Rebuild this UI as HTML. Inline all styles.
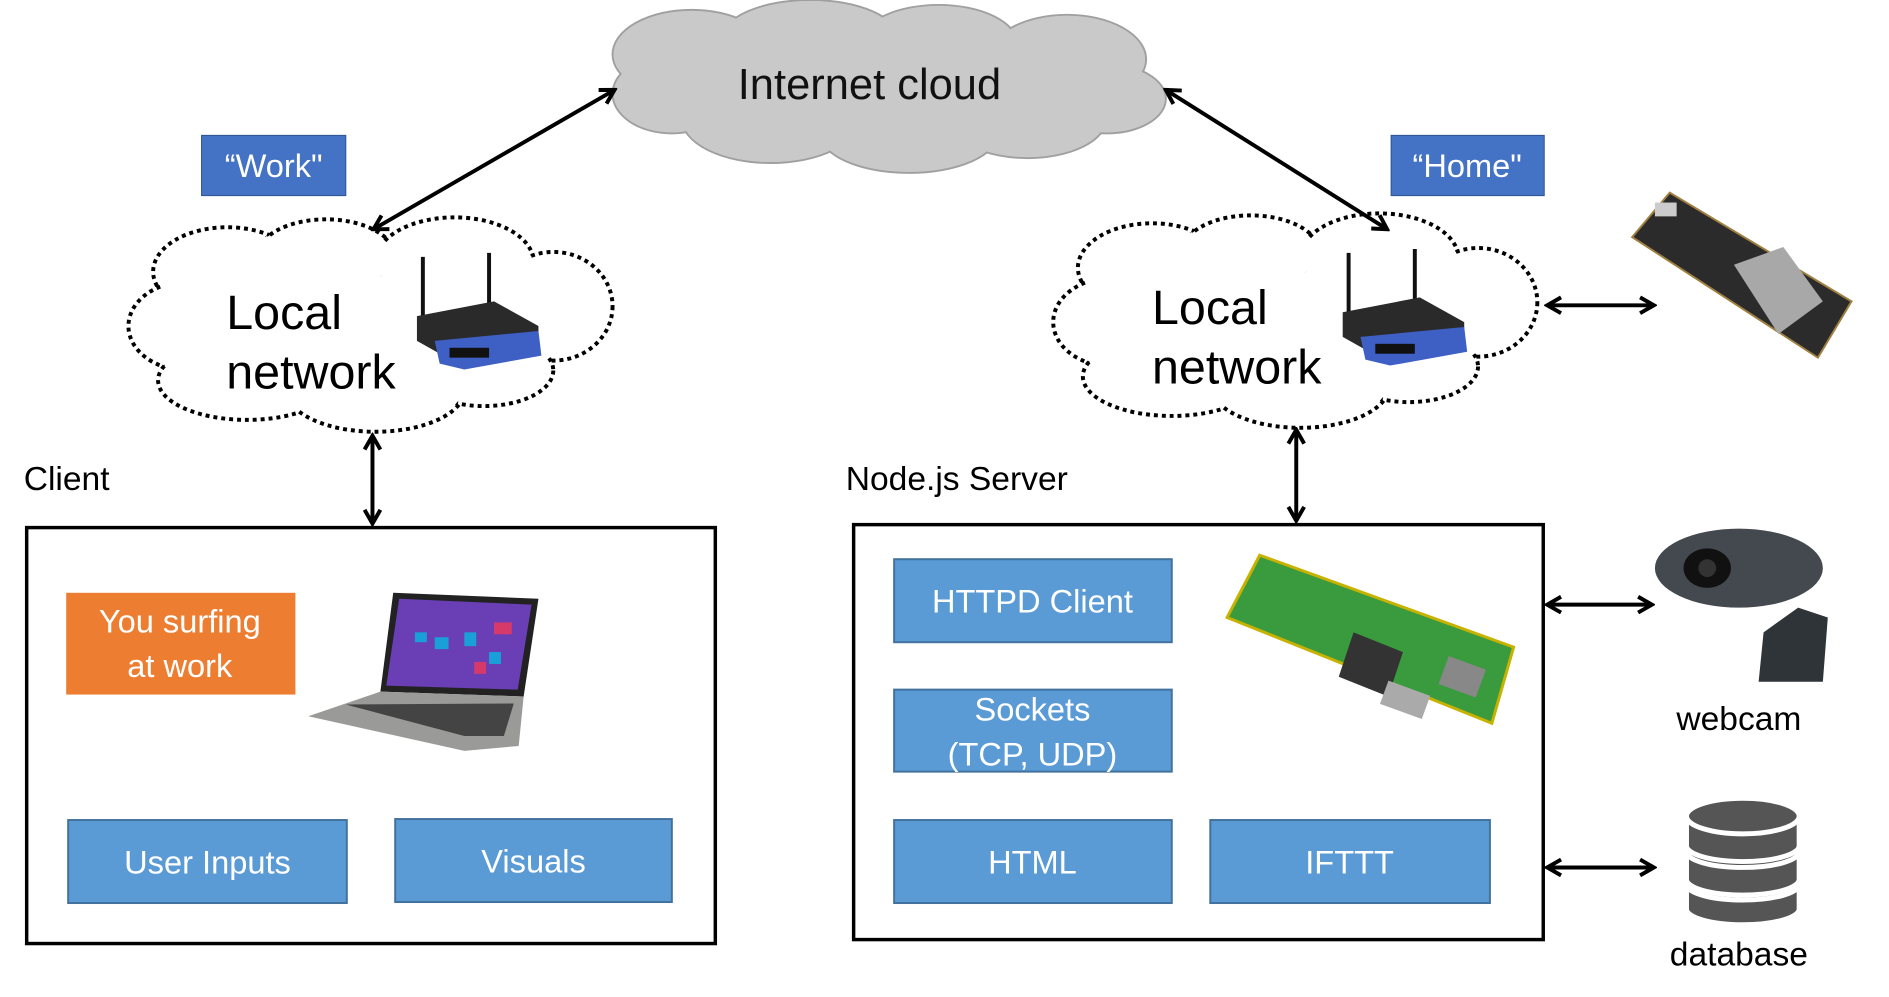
<!DOCTYPE html>
<html><head><meta charset="utf-8"><style>
html,body{margin:0;padding:0;background:#fff;}
svg{display:block;}
text{font-family:"Liberation Sans",sans-serif;}
</style></head><body>
<svg width="1889" height="997" viewBox="0 0 1889 997" xmlns="http://www.w3.org/2000/svg">
<defs>
<marker id="ah" viewBox="0 0 20 20" refX="17" refY="10" markerWidth="20" markerHeight="20" markerUnits="userSpaceOnUse" orient="auto-start-reverse">
<path d="M3,2 L17,10 L3,18" fill="none" stroke="#000" stroke-width="4" stroke-linejoin="miter"/>
</marker>
</defs>
<g transform="scale(0.988)">
<!-- Internet cloud -->
<g stroke="#a0a0a0" stroke-width="2" fill="#c9c9c9">
<ellipse cx="700" cy="55" rx="80" ry="45"/><ellipse cx="820" cy="40" rx="90" ry="40"/>
<ellipse cx="950" cy="45" rx="80" ry="40"/><ellipse cx="1080" cy="60" rx="80" ry="45"/>
<ellipse cx="1120" cy="100" rx="60" ry="35"/><ellipse cx="680" cy="95" rx="60" ry="40"/>
<ellipse cx="780" cy="120" rx="90" ry="45"/><ellipse cx="920" cy="135" rx="90" ry="40"/>
<ellipse cx="1040" cy="120" rx="80" ry="40"/>
</g>
<g fill="#c9c9c9">
<ellipse cx="700" cy="55" rx="79" ry="44"/><ellipse cx="820" cy="40" rx="89" ry="39"/>
<ellipse cx="950" cy="45" rx="79" ry="39"/><ellipse cx="1080" cy="60" rx="79" ry="44"/>
<ellipse cx="1120" cy="100" rx="59" ry="34"/><ellipse cx="680" cy="95" rx="59" ry="39"/>
<ellipse cx="780" cy="120" rx="89" ry="44"/><ellipse cx="920" cy="135" rx="89" ry="39"/>
<ellipse cx="1040" cy="120" rx="79" ry="39"/><rect x="700" y="60" width="380" height="80"/>
</g>
<text x="880" y="100" font-size="44" text-anchor="middle" fill="#111">Internet cloud</text>

<!-- Labels -->
<rect x="204" y="137" width="146" height="61" fill="#4472C4" stroke="#2F528F"/>
<text x="277" y="179" font-size="33" fill="#fff" text-anchor="middle">“Work"</text>
<rect x="1408" y="137" width="155" height="61" fill="#4472C4" stroke="#2F528F"/>
<text x="1485" y="179" font-size="33" fill="#fff" text-anchor="middle">“Home"</text>

<!-- Local clouds -->
<g id="lc">
<g stroke="#000" stroke-width="4" stroke-dasharray="4 4" fill="#fff">
<ellipse cx="230" cy="275" rx="75" ry="45"/><ellipse cx="330" cy="260" rx="70" ry="38"/>
<ellipse cx="460" cy="265" rx="80" ry="45"/><ellipse cx="560" cy="310" rx="60" ry="55"/>
<ellipse cx="190" cy="330" rx="60" ry="45"/><ellipse cx="250" cy="385" rx="90" ry="40"/>
<ellipse cx="380" cy="395" rx="90" ry="42"/><ellipse cx="490" cy="375" rx="70" ry="36"/>
</g>
<g fill="#fff">
<ellipse cx="230" cy="275" rx="72" ry="42"/><ellipse cx="330" cy="260" rx="67" ry="35"/>
<ellipse cx="460" cy="265" rx="77" ry="42"/><ellipse cx="560" cy="310" rx="57" ry="52"/>
<ellipse cx="190" cy="330" rx="57" ry="42"/><ellipse cx="250" cy="385" rx="87" ry="37"/>
<ellipse cx="380" cy="395" rx="87" ry="39"/><ellipse cx="490" cy="375" rx="67" ry="33"/>
<rect x="200" y="280" width="340" height="110"/>
</g>
</g>
<use href="#lc" transform="translate(936,-4)"/>

<g id="rt">
<line x1="428" y1="260" x2="428" y2="325" stroke="#111" stroke-width="4"/>
<line x1="495" y1="256" x2="495" y2="315" stroke="#111" stroke-width="4"/>
<path d="M422,320 L500,305 L545,330 L545,355 L470,372 L422,345 Z" fill="#2a2a2a"/>
<path d="M440,345 L545,335 L548,360 L470,374 L445,368 Z" fill="#3e5fc4"/>
<rect x="455" y="352" width="40" height="10" fill="#111"/>
</g>
<use href="#rt" transform="translate(937,-4)"/>

<text x="229" y="333" font-size="49" fill="#000">Local</text>
<text x="229" y="393" font-size="49" fill="#000">network</text>
<text x="1166" y="328" font-size="49" fill="#000">Local</text>
<text x="1166" y="388" font-size="49" fill="#000">network</text>

<!-- Arrows -->
<g stroke="#000" stroke-width="4" marker-start="url(#ah)" marker-end="url(#ah)">
<line x1="378" y1="232" x2="622" y2="91"/>
<line x1="1180" y1="91" x2="1404" y2="232"/>
<line x1="377" y1="441" x2="377" y2="530"/>
<line x1="1312" y1="435" x2="1312" y2="527"/>
<line x1="1566" y1="309" x2="1674" y2="309"/>
<line x1="1566" y1="612" x2="1672" y2="612"/>
<line x1="1566" y1="878" x2="1674" y2="878"/>
</g>

<!-- Client -->
<text x="24" y="496" font-size="34" fill="#000">Client</text>
<rect x="27" y="534" width="697" height="421" fill="none" stroke="#000" stroke-width="3.5"/>
<rect x="67" y="600" width="232" height="103" fill="#ED7D31"/>
<text x="182" y="640" font-size="33" fill="#fff" text-anchor="middle">You surfing</text>
<text x="182" y="685" font-size="33" fill="#fff" text-anchor="middle">at work</text>
<!-- laptop -->
<path d="M398,600 L545,606 L530,705 L385,700 Z" fill="#222"/>
<path d="M404,606 L538,612 L524,698 L391,694 Z" fill="#6a3fb5"/>
<g fill="#1aa0d8"><rect x="420" y="640" width="12" height="10"/><rect x="440" y="645" width="14" height="12"/><rect x="470" y="640" width="12" height="14"/><rect x="495" y="660" width="12" height="12"/></g>
<g fill="#d63a6a"><rect x="500" y="630" width="18" height="12"/><rect x="480" y="670" width="12" height="12"/></g>
<path d="M385,700 L530,705 L525,755 L470,760 L312,725 Z" fill="#9a9a98"/>
<path d="M350,713 L520,712 L510,745 L470,745 Z" fill="#444"/>
<rect x="69" y="830" width="282" height="84" fill="#5B9BD5" stroke="#41719C" stroke-width="2"/>
<text x="210" y="884" font-size="33" fill="#fff" text-anchor="middle">User Inputs</text>
<rect x="400" y="829" width="280" height="84" fill="#5B9BD5" stroke="#41719C" stroke-width="2"/>
<text x="540" y="883" font-size="33" fill="#fff" text-anchor="middle">Visuals</text>

<!-- Server -->
<text x="856" y="496" font-size="34" fill="#000">Node.js Server</text>
<rect x="864" y="531" width="698" height="420" fill="none" stroke="#000" stroke-width="3.5"/>
<rect x="905" y="566" width="281" height="84" fill="#5B9BD5" stroke="#41719C" stroke-width="2"/>
<text x="1045" y="620" font-size="33" fill="#fff" text-anchor="middle">HTTPD Client</text>
<rect x="905" y="698" width="281" height="83" fill="#5B9BD5" stroke="#41719C" stroke-width="2"/>
<text x="1045" y="729" font-size="33" fill="#fff" text-anchor="middle">Sockets</text>
<text x="1045" y="775" font-size="33" fill="#fff" text-anchor="middle">(TCP, UDP)</text>
<rect x="905" y="830" width="281" height="84" fill="#5B9BD5" stroke="#41719C" stroke-width="2"/>
<text x="1045" y="884" font-size="33" fill="#fff" text-anchor="middle">HTML</text>
<rect x="1225" y="830" width="283" height="84" fill="#5B9BD5" stroke="#41719C" stroke-width="2"/>
<text x="1366" y="884" font-size="33" fill="#fff" text-anchor="middle">IFTTT</text>
<!-- Pi zero -->
<path d="M1275,562 L1532,655 L1510,732 L1242,625 Z" fill="#3a9a3e" stroke="#c8b200" stroke-width="3"/>
<path d="M1370,640 L1420,660 L1405,705 L1355,685 Z" fill="#333"/>
<rect x="1400" y="695" width="45" height="25" fill="#aaa" transform="rotate(20 1420 707)"/>
<rect x="1460" y="670" width="40" height="30" fill="#888" transform="rotate(20 1480 685)"/>
<!-- ESP board -->
<path d="M1652,240 L1690,195 L1874,305 L1840,362 Z" fill="#2b2b2b" stroke="#a08040" stroke-width="2"/>
<path d="M1755,268 L1805,250 L1845,305 L1800,338 Z" fill="#a8a8a8"/>
<rect x="1675" y="205" width="22" height="14" fill="#ccc"/>
<!-- Webcam -->
<path d="M1785,640 L1820,615 L1850,625 L1845,690 L1780,690 Z" fill="#2f3438"/>
<ellipse cx="1760" cy="575" rx="85" ry="40" fill="#43494e"/>
<ellipse cx="1728" cy="575" rx="24" ry="20" fill="#111"/>
<circle cx="1728" cy="575" r="9" fill="#333"/>
<text x="1760" y="739" font-size="34" fill="#000" text-anchor="middle">webcam</text>
<!-- Database -->
<g fill="#555" stroke="#fff" stroke-width="5">
<path d="M1707,895 L1707,920 A57,16 0 0,0 1821,920 L1821,895 Z"/>
<ellipse cx="1764" cy="895" rx="57" ry="16"/>
<path d="M1707,862 L1707,890 A57,16 0 0,0 1821,890 L1821,862 Z"/>
<ellipse cx="1764" cy="862" rx="57" ry="16"/>
<path d="M1707,828 L1707,856 A57,16 0 0,0 1821,856 L1821,828 Z"/>
<ellipse cx="1764" cy="826" rx="57" ry="18"/>
</g>
<text x="1760" y="977" font-size="34" fill="#000" text-anchor="middle">database</text>
</g>
</svg>
</body></html>
